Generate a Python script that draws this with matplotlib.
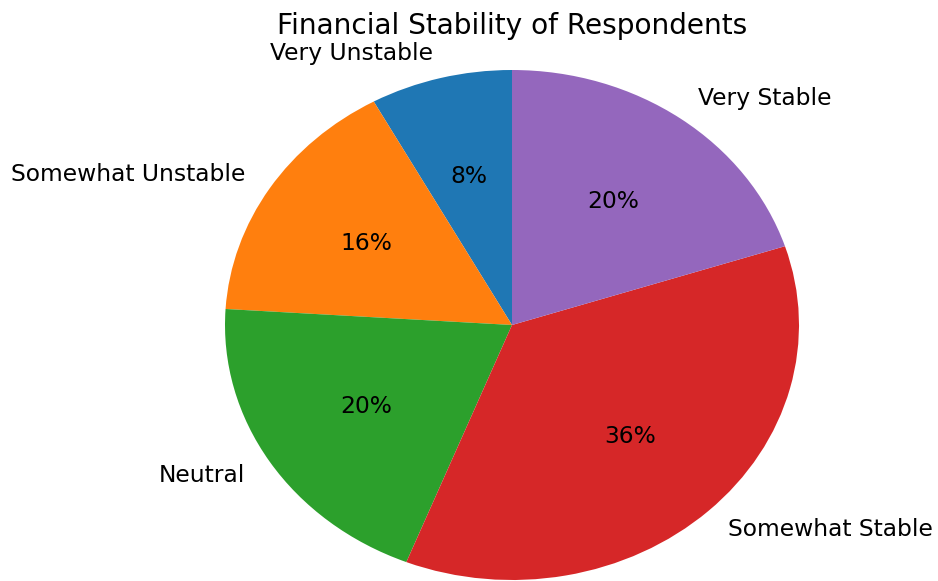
import matplotlib
matplotlib.use("Agg")
import matplotlib.pyplot as plt

# data
labels = ['Very Unstable', 'Somewhat Unstable', 'Neutral', 'Somewhat Stable', 'Very Stable']
shares = [8, 16, 20, 36, 20]

W, H = 938, 581
fig = plt.figure(figsize=(W / 100, H / 100), dpi=100)

# axes spans the (stretched) pie itself
left, right, top, bottom = 225, 799, 70, 580
ax = fig.add_axes([left / W, 1 - bottom / H, (right - left) / W, (bottom - top) / H])

ax.pie(shares, labels=labels, autopct='%1.0f%%', startangle=90,
       textprops={'fontsize': 16.8})
ax.set_aspect('auto')
ax.set_xlim(-1, 1)
ax.set_ylim(-1, 1)
ax.set_title('Financial Stability of Respondents', fontsize=20.2, pad=26)

fig.savefig('out.png', dpi=100)
